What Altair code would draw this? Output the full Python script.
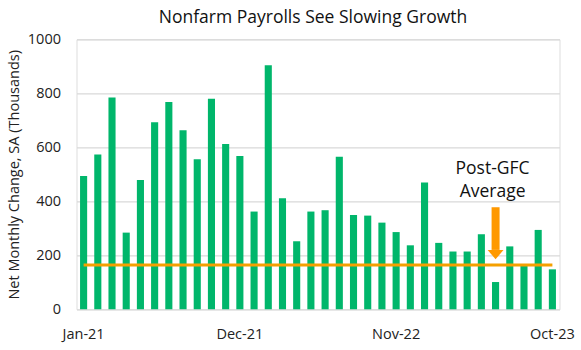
import altair as alt
import pandas as pd

months = ["Jan-21", "Feb-21", "Mar-21", "Apr-21", "May-21", "Jun-21", "Jul-21", "Aug-21",
          "Sep-21", "Oct-21", "Nov-21", "Dec-21", "Jan-22", "Feb-22", "Mar-22", "Apr-22",
          "May-22", "Jun-22", "Jul-22", "Aug-22", "Sep-22", "Oct-22", "Nov-22", "Dec-22",
          "Jan-23", "Feb-23", "Mar-23", "Apr-23", "May-23", "Jun-23", "Jul-23", "Aug-23",
          "Sep-23", "Oct-23"]
payrolls = [494, 573, 784, 284, 479, 693, 768, 663, 556, 780, 612, 568, 362, 904, 411, 252,
            362, 367, 565, 349, 347, 321, 286, 237, 470, 246, 214, 214, 278, 101, 233, 162,
            294, 148]
tick_labels = ["Jan-21", "Dec-21", "Nov-22", "Oct-23"]
post_gfc_avg = 164

arrow_month = ["Jun-23"]
arrow_top = [378]
arrow_head_start = [220]
arrow_tip = [185]
anno_lines = ["Post-GFC", "Average"]
anno_y = [501, 417]

df = pd.DataFrame({"month": months, "value": payrolls})
df["avg"] = post_gfc_avg
arrow_df = pd.DataFrame({"month": arrow_month, "top": arrow_top,
                         "head": arrow_head_start, "tip": arrow_tip})
arrow_df["head_mid"] = (arrow_df["head"] + arrow_df["tip"]) / 2
anno_df = pd.DataFrame({"month": arrow_month * 2, "text": anno_lines, "y": anno_y})

FONT = "Open Sans"
x_enc = alt.X("month:N", sort=months,
              scale=alt.Scale(paddingInner=0.5, paddingOuter=0.25),
              axis=alt.Axis(values=tick_labels, labelAngle=0, title=None, ticks=False,
                            domain=False, labelFontSize=14.5, labelPadding=18,
                            labelColor="#222222", labelFont=FONT))
y_scale = alt.Scale(domain=[0, 1000])

bars = alt.Chart(df).mark_bar(color="#00B66B").encode(
    x=x_enc,
    y=alt.Y("value:Q", scale=y_scale,
            axis=alt.Axis(values=[0, 200, 400, 600, 800, 1000], format="d", grid=True,
                          gridColor="#D9D9D9", gridWidth=1.3, ticks=False, domain=False,
                          labelFontSize=14.5, labelPadding=16, labelColor="#222222",
                          labelFont=FONT,
                          title="Net Monthly Change, SA (Thousands)", titleFontSize=14.5,
                          titleFontWeight="normal", titleColor="#222222", titleFont=FONT,
                          titlePadding=6)),
)

avg_line = alt.Chart(df).mark_line(color="#F5A000", strokeWidth=3).encode(
    x=alt.X("month:N", sort=months),
    y=alt.Y("avg:Q", scale=y_scale),
)

shaft = alt.Chart(arrow_df).mark_rule(color="#FF9900", strokeWidth=8, strokeCap="butt").encode(
    x=alt.X("month:N", sort=months),
    y=alt.Y("top:Q", scale=y_scale),
    y2="head:Q",
)

head = alt.Chart(arrow_df).mark_point(
    shape="M-1,-0.59 L1,-0.59 L0,0.59 Z", size=250, filled=True, opacity=1,
    color="#FF9900", strokeWidth=0
).encode(
    x=alt.X("month:N", sort=months),
    y=alt.Y("head_mid:Q", scale=y_scale),
)

anno = alt.Chart(anno_df).mark_text(
    font=FONT, fontSize=17.5, color="#111111", baseline="alphabetic", align="center", dx=-3
).encode(
    x=alt.X("month:N", sort=months),
    y=alt.Y("y:Q", scale=y_scale),
    text="text:N",
)

chart = alt.layer(bars, avg_line, shaft, head, anno).properties(
    width=483,
    height=270,
    padding={"left": 76.5, "top": 39.3, "right": 21.5, "bottom": 40.7},
    autosize=alt.AutoSizeParams(type="none"),
    title=alt.TitleParams("Nonfarm Payrolls See Slowing Growth", font=FONT, fontSize=17.5,
                          fontWeight="normal", color="#111111", anchor="middle",
                          offset=5, dx=-5),
).configure_view(stroke=None).configure(background="white")

chart.save("out.html", embed_options={"renderer": "svg", "actions": False})
